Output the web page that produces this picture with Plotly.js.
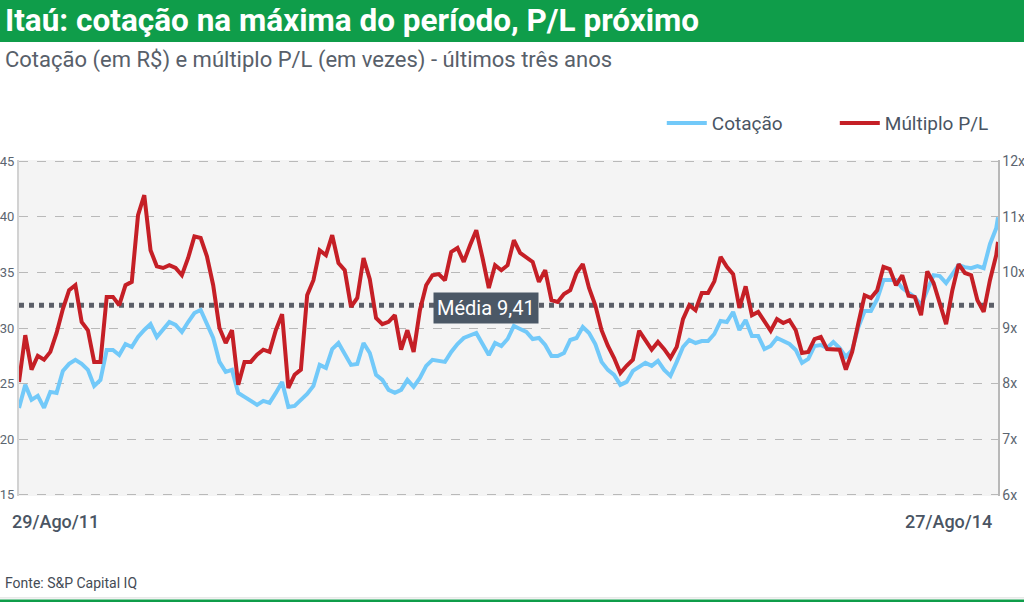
<!DOCTYPE html>
<html><head><meta charset="utf-8">
<script src="https://cdn.plot.ly/plotly-3.0.1.min.js"></script>
<style>html,body{margin:0;padding:0;background:#fff}#chart{width:1024px;height:602px}</style>
</head><body><div id="chart"></div>
<script>
const datas = [
"2011-08-29","2011-09-05","2011-09-12","2011-09-19","2011-09-26","2011-10-03","2011-10-10","2011-10-17","2011-10-24","2011-10-31",
"2011-11-07","2011-11-14","2011-11-21","2011-11-28","2011-12-05","2011-12-12","2011-12-19","2011-12-26",
"2012-01-02","2012-01-09","2012-01-16","2012-01-23","2012-01-30","2012-02-06","2012-02-13","2012-02-20","2012-02-27",
"2012-03-05","2012-03-12","2012-03-19","2012-03-26","2012-04-02","2012-04-09","2012-04-16","2012-04-23","2012-04-30",
"2012-05-07","2012-05-14","2012-05-21","2012-05-28","2012-06-04","2012-06-11","2012-06-18","2012-06-25",
"2012-07-02","2012-07-09","2012-07-16","2012-07-23","2012-07-30","2012-08-06","2012-08-13","2012-08-20","2012-08-27",
"2012-09-03","2012-09-10","2012-09-17","2012-09-24","2012-10-01","2012-10-08","2012-10-15","2012-10-22","2012-10-29",
"2012-11-05","2012-11-12","2012-11-19","2012-11-26","2012-12-03","2012-12-10","2012-12-17","2012-12-24","2012-12-31",
"2013-01-07","2013-01-14","2013-01-21","2013-01-28","2013-02-04","2013-02-11","2013-02-18","2013-02-25",
"2013-03-04","2013-03-11","2013-03-18","2013-03-25","2013-04-01","2013-04-08","2013-04-15","2013-04-22","2013-04-29",
"2013-05-06","2013-05-13","2013-05-20","2013-05-27","2013-06-03","2013-06-10","2013-06-17","2013-06-24",
"2013-07-01","2013-07-08","2013-07-15","2013-07-22","2013-07-29","2013-08-05","2013-08-12","2013-08-19","2013-08-26",
"2013-09-02","2013-09-09","2013-09-16","2013-09-23","2013-09-30","2013-10-07","2013-10-14","2013-10-21","2013-10-28",
"2013-11-04","2013-11-11","2013-11-18","2013-11-25","2013-12-02","2013-12-09","2013-12-16","2013-12-23","2013-12-30",
"2014-01-06","2014-01-13","2014-01-20","2014-01-27","2014-02-03","2014-02-10","2014-02-17","2014-02-24",
"2014-03-03","2014-03-10","2014-03-17","2014-03-24","2014-03-31","2014-04-07","2014-04-14","2014-04-21","2014-04-28",
"2014-05-05","2014-05-12","2014-05-19","2014-05-26","2014-06-02","2014-06-09","2014-06-16","2014-06-23","2014-06-30",
"2014-07-07","2014-07-14","2014-07-21","2014-07-28","2014-08-04","2014-08-11","2014-08-18","2014-08-25","2014-08-27"
];

const cotacao = [
22.81,24.88,23.53,23.89,22.81,24.25,24.16,26.14,26.77,27.13,
26.77,26.23,24.79,25.33,28.02,28.02,27.57,28.56,28.29,29.19,
29.82,30.36,29.19,29.91,30.54,30.27,29.64,30.54,31.35,31.62,
30.45,29.10,26.95,26.05,26.23,24.16,23.80,23.44,23.08,23.44,
23.26,24.16,25.15,22.90,22.99,23.53,24.07,24.79,26.68,26.41,
28.11,28.65,27.66,26.68,26.77,28.65,27.75,25.78,25.33,24.43,
24.16,24.43,25.33,24.70,25.51,26.59,27.13,27.04,26.95,27.84,
28.56,29.10,29.37,29.55,28.56,27.57,28.65,28.38,29.01,30.18,
29.91,29.64,29.01,29.10,28.47,27.48,27.48,27.75,28.92,29.10,
30.09,29.55,28.56,26.95,26.23,25.78,24.88,25.15,26.14,26.50,
26.86,26.59,27.04,26.23,25.69,26.95,28.29,28.92,28.65,28.83,
28.83,29.46,30.63,30.54,31.44,29.82,30.72,29.28,29.28,28.11,
28.38,29.10,28.83,28.56,28.02,26.86,27.22,28.38,28.47,28.20,
28.74,28.20,27.40,28.02,30.09,31.53,31.53,32.60,34.31,34.31,
34.31,33.59,33.14,32.78,32.07,33.41,34.76,34.67,34.04,34.85,
35.66,35.48,35.39,35.57,35.39,37.54,38.98,39.97
];

const multiploPL = [
8.03,8.87,8.25,8.50,8.43,8.57,8.91,9.34,9.68,9.77,
9.11,8.96,8.39,8.39,9.56,9.56,9.41,9.77,9.83,11.03,
11.39,10.40,10.11,10.08,10.13,10.08,9.95,10.26,10.65,10.62,
10.29,9.77,9.00,8.73,8.96,7.98,8.39,8.39,8.52,8.61,
8.57,8.96,9.25,7.92,8.16,8.25,9.59,9.86,10.40,10.31,
10.67,10.17,10.04,9.38,9.54,10.26,9.88,9.18,9.07,9.11,
9.23,8.61,8.96,8.57,9.32,9.77,9.95,9.97,9.86,10.37,
10.44,10.19,10.49,10.76,10.26,9.72,10.13,10.04,10.13,10.58,
10.35,10.26,10.19,9.83,10.04,9.50,9.47,9.61,9.68,9.99,
10.15,9.72,9.41,8.96,8.68,8.46,8.19,8.32,8.43,8.95,
8.78,8.61,8.75,8.62,8.46,8.66,9.16,9.41,9.32,9.63,
9.63,9.84,10.28,10.10,9.97,9.36,9.75,9.23,9.29,9.11,
8.95,9.16,9.09,9.14,8.96,8.55,8.57,8.80,8.84,8.62,
8.61,8.61,8.25,8.57,9.09,9.59,9.54,9.68,10.10,10.06,
9.77,9.95,9.58,9.56,9.23,10.02,9.81,9.45,9.07,9.68,
10.15,9.99,9.95,9.50,9.29,9.86,10.31,10.55
];

const mediaPL = 9.41;
const eixoCotacao = [14.88, 45.12];
const eixoPL = [5.976, 12.024];
const rotuloInicio = "29/Ago/11";
const rotuloFim = "27/Ago/14";

const FONT = "Roboto, 'Noto Sans', sans-serif";
const GREEN = "#0f9d4a";

const traces = [
  {x: datas, y: cotacao, name: "Cotação", type: "scatter", mode: "lines",
   line: {color: "#72c9f9", width: 4}, yaxis: "y", hoverinfo: "skip"},
  {x: datas, y: multiploPL, name: "Múltiplo P/L", type: "scatter", mode: "lines",
   line: {color: "#c51f26", width: 4}, yaxis: "y2", hoverinfo: "skip"}
];

const layout = {
  width: 1024, height: 602,
  margin: {l: 19, r: 26, t: 160, b: 106, pad: 0},
  paper_bgcolor: "#ffffff",
  plot_bgcolor: "#f4f4f4",
  font: {family: FONT, color: "#5b6570", size: 14},
  showlegend: true,
  legend: {orientation: "h", x: 1.01, xanchor: "right", y: 1.11, yanchor: "middle",
           font: {family: FONT, size: 19, color: "#4a5563"}, itemwidth: 40,
           entrywidth: 118, bgcolor: "rgba(0,0,0,0)"},
  xaxis: {type: "date", range: [datas[0], datas[datas.length - 1]],
          showgrid: false, showticklabels: false, zeroline: false, showline: false, ticks: ""},
  yaxis: {range: eixoCotacao, dtick: 5, tick0: 15, showgrid: true, gridcolor: "#b9b9b9",
          griddash: "dash", gridwidth: 1, zeroline: false, showline: true,
          linecolor: "#d2d2d2", linewidth: 2, ticks: "", ticklen: 0,
          tickfont: {family: FONT, size: 13, color: "#5b6570"}},
  yaxis2: {range: eixoPL, dtick: 1, tick0: 6, overlaying: "y", side: "right",
           ticksuffix: "x", showgrid: false, zeroline: false, showline: true,
           linecolor: "#b8b8b8", linewidth: 1.5, ticks: "", ticklen: 0,
           tickfont: {family: FONT, size: 14, color: "#5b6570"}},
  shapes: [
    {type: "rect", xref: "paper", yref: "paper", x0: -0.03, x1: 1.04, y0: 1.3512, y1: 1.49,
     fillcolor: GREEN, line: {width: 0}, layer: "below"},
    {type: "line", xref: "paper", yref: "paper", x0: -0.03, x1: 1.04, y0: -0.3032, y1: -0.3032,
     line: {color: "#dcdcdc", width: 1}},
    {type: "rect", xref: "paper", yref: "paper", x0: -0.03, x1: 1.04, y0: -0.3077, y1: -0.34,
     fillcolor: GREEN, line: {width: 0}},
    {type: "line", xref: "paper", yref: "y2", x0: 0, x1: 1, y0: mediaPL, y1: mediaPL,
     line: {color: "#5c5f68", width: 5, dash: "dot"}, layer: "between"}
  ],
  annotations: [
    {xref: "paper", yref: "paper", x: -0.0163, y: 1.4137, xanchor: "left", yanchor: "middle",
     text: "<b>Itaú: cotação na máxima do período, P/L próximo</b>", showarrow: false,
     font: {family: FONT, size: 31.5, color: "#ffffff"}},
    {xref: "paper", yref: "paper", x: -0.0163, y: 1.297, xanchor: "left", yanchor: "middle",
     text: "Cotação (em R$) e múltiplo P/L (em vezes) - últimos três anos", showarrow: false,
     font: {family: FONT, size: 22, color: "#58606a"}},
    {xref: "paper", yref: "paper", x: -0.0092, y: -0.0747, xanchor: "left", yanchor: "middle",
     text: rotuloInicio, showarrow: false,
     font: {family: FONT, size: 18, color: "#4a5563", weight: 500}},
    {xref: "paper", yref: "paper", x: 0.9959, y: -0.0747, xanchor: "right", yanchor: "middle",
     text: rotuloFim, showarrow: false,
     font: {family: FONT, size: 18, color: "#4a5563", weight: 500}},
    {xref: "paper", yref: "paper", x: -0.0163, y: -0.2575, xanchor: "left", yanchor: "middle",
     text: "Fonte: S&P Capital IQ", showarrow: false,
     font: {family: FONT, size: 14, color: "#444b55"}},
    {xref: "paper", yref: "y2", x: 0.477, y: mediaPL, xanchor: "center", yanchor: "middle",
     yshift: -3, text: "Média 9,41", showarrow: false, bgcolor: "#4b5866",
     borderpad: 3, font: {family: FONT, size: 20, color: "#ffffff"}}
  ]
};

Plotly.newPlot("chart", traces, layout, {displayModeBar: false, staticPlot: true});
</script>
</body></html>
